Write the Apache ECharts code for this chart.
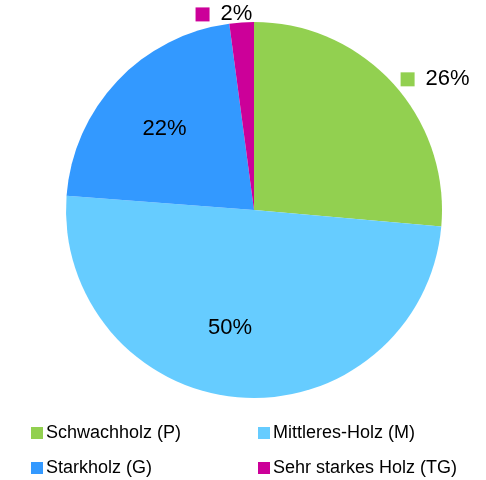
<!DOCTYPE html>
<html>
<head>
<meta charset="utf-8">
<script src="https://cdn.jsdelivr.net/npm/echarts@6/dist/echarts.min.js"></script>
<style>html,body{margin:0;padding:0;background:#fff}#c{width:486px;height:480px}</style>
</head>
<body>
<div id="c"></div>
<script>
const categories = ['Schwachholz (P)', 'Mittleres-Holz (M)', 'Starkholz (G)', 'Sehr starkes Holz (TG)'];
const values = [26.4, 49.8, 21.7, 2.1];
const colors = ['#92D050', '#66CCFF', '#3399FF', '#CC0099'];
const outsideLabel = [true, false, false, true];

const FONT = '"Liberation Sans Narrow", "Arial Narrow", "Liberation Sans", Arial, sans-serif';

const chart = echarts.init(document.getElementById('c'));

const mainData = categories.map((n, i) => ({
  name: n,
  value: values[i],
  itemStyle: { color: colors[i] },
  label: outsideLabel[i] ? {
    show: true,
    position: 'outside',
    formatter: '{m|}{v|{d}%}',
    rich: {
      m: { width: 14, height: 14, backgroundColor: colors[i] },
      v: { fontSize: 22, fontFamily: FONT, color: '#000', padding: [0, 0, 0, 11] }
    }
  } : { show: false },
  labelLine: { show: false }
}));

const innerData = categories.map((n, i) => ({
  name: n,
  value: values[i],
  label: outsideLabel[i] ? { show: false } : {
    show: true,
    position: 'inside',
    formatter: '{d}%',
    fontSize: 22,
    fontFamily: FONT,
    color: '#000'
  }
}));

const legendPos = [[31, 424], [258, 424], [31, 459], [258, 459]];
const legends = categories.map((n, i) => ({
  left: legendPos[i][0],
  top: legendPos[i][1],
  orient: 'horizontal',
  icon: 'rect',
  itemWidth: 12,
  itemHeight: 12,
  selectedMode: false,
  padding: 0,
  textStyle: { fontSize: 18, fontFamily: FONT, color: '#000', padding: [0, 0, 0, -2] },
  data: [n]
}));

chart.setOption({
  animation: false,
  backgroundColor: '#fff',
  legend: legends,
  series: [
    {
      type: 'pie',
      center: [254, 210],
      radius: 188,
      startAngle: 90,
      clockwise: true,
      percentPrecision: 0,
      avoidLabelOverlap: false,
      silent: true,
      labelLine: { show: false, length: 4, length2: 0 },
      labelLayout: function (p) {
        if (p.dataIndex === 3) return { dx: 16, dy: -4 };
        return { dy: -1 };
      },
      data: mainData
    },
    {
      type: 'pie',
      center: [254, 210],
      radius: [100, 140],
      startAngle: 90,
      clockwise: true,
      percentPrecision: 0,
      silent: true,
      itemStyle: { color: 'rgba(0,0,0,0)' },
      emphasis: { disabled: true },
      labelLayout: function (p) {
        if (p.dataIndex === 1) return { dx: -14, dy: -5 };
        return { dy: 3 };
      },
      data: innerData
    }
  ]
});
</script>
</body>
</html>
